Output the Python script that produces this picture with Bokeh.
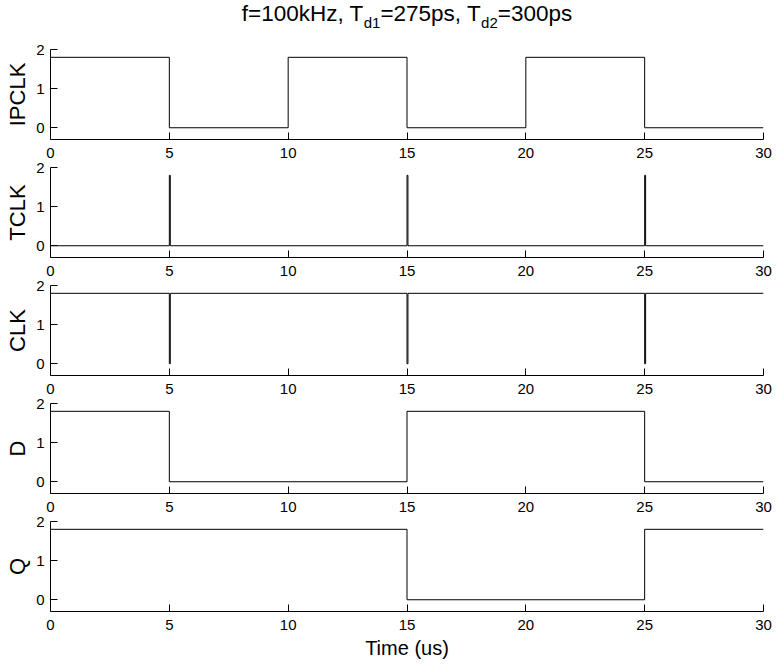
from bokeh.plotting import figure
from bokeh.layouts import column
from bokeh.models import Range1d, FixedTicker, ColumnDataSource
from bokeh.core.properties import value
from bokeh.embed import file_html
from bokeh.resources import INLINE

# ---------------- data ----------------
x_ticks = [0, 5, 10, 15, 20, 25, 30]
y_ticks = [0, 1, 2]
signal_names = ["IPCLK", "TCLK", "CLK", "D", "Q"]

ipclk_t = [0, 5, 5, 10, 10, 15, 15, 20, 20, 25, 25, 30]
ipclk_v = [1.8, 1.8, 0, 0, 1.8, 1.8, 0, 0, 1.8, 1.8, 0, 0]

tclk_t = [0, 5, 5, 5.04, 5.04, 15, 15, 15.04, 15.04, 25, 25, 25.04, 25.04, 30]
tclk_v = [0, 0, 1.8, 1.8, 0, 0, 1.8, 1.8, 0, 0, 1.8, 1.8, 0, 0]

clk_t = [0, 5, 5, 5.04, 5.04, 15, 15, 15.04, 15.04, 25, 25, 25.04, 25.04, 30]
clk_v = [1.8, 1.8, 0, 0, 1.8, 1.8, 0, 0, 1.8, 1.8, 0, 0, 1.8, 1.8]

d_t = [0, 5, 5, 15, 15, 25, 25, 30]
d_v = [1.8, 1.8, 0, 0, 1.8, 1.8, 0, 0]

q_t = [0, 15, 15, 25, 25, 30]
q_v = [1.8, 1.8, 0, 0, 1.8, 1.8]

title_parts = ["f=100kHz, T", "d1", "=275ps, T", "d2", "=300ps"]
title_is_sub = [False, True, False, True, False]
x_label = "Time (us)"

# ---------------- layout ----------------
FONT = "Liberation Sans"
W = 775
BL, BR = 50, 12
MAIN_FS, SUB_FS = 22.5, 15.0
TITLE_H = 48
PANEL_TOP = 12

HW = {"f": 278, "=": 584, "k": 500, "H": 722, "z": 500, ",": 278, " ": 278,
      "T": 611, "d": 556, "p": 556, "s": 500}


def text_width(s, size):
    return sum(HW.get(c, 556) for c in s) * size / 1000.0


# the column aligns frames, so the title frame spans the panels' frame width
# and starts below the shared top border: map data units to page pixels
title_fig = figure(width=W, height=TITLE_H, x_range=Range1d(BL, W - BR),
                   y_range=Range1d(TITLE_H, PANEL_TOP),
                   toolbar_location=None, output_backend="svg", min_border=0,
                   x_axis_location=None, y_axis_location=None,
                   outline_line_color=None)
title_fig.grid.visible = False
sizes = [SUB_FS if s else MAIN_FS for s in title_is_sub]
widths = [text_width(t, fs) for t, fs in zip(title_parts, sizes)]
center = (BL + (W - BR)) / 2.0
xs = []
cur = center - sum(widths) / 2.0
for w in widths:
    xs.append(cur)
    cur += w
ys = [28.5 if s else 22 for s in title_is_sub]
src = ColumnDataSource(dict(x=xs, y=ys, text=title_parts,
                            fs=["%.1fpx" % f for f in sizes]))
title_fig.text(x="x", y="y", text="text", source=src, text_font=value(FONT),
               text_font_size="fs", text_baseline="alphabetic", text_align="left",
               text_color="black")

figs = [title_fig]
series = [(ipclk_t, ipclk_v), (tclk_t, tclk_v), (clk_t, clk_v), (d_t, d_v), (q_t, q_v)]
for i, (name, (t, v)) in enumerate(zip(signal_names, series)):
    last = i == len(series) - 1
    top = PANEL_TOP
    bottom = 53 if last else 28
    h = top + 90 + bottom
    p = figure(width=W, height=h, x_range=Range1d(0, 30), y_range=Range1d(-0.3, 2.0),
               toolbar_location=None, output_backend="svg",
               min_border_left=BL, min_border_right=BR,
               min_border_top=top, min_border_bottom=bottom,
               background_fill_color=None, border_fill_color=None,
               outline_line_color=None)
    p.margin = (-11 if i == 0 else -12, 0, 0, 0)
    p.line(t, v, line_color="black", line_width=1)
    p.grid.visible = False
    p.xaxis.ticker = FixedTicker(ticks=x_ticks)
    p.yaxis.ticker = FixedTicker(ticks=y_ticks)
    for ax in (p.xaxis[0], p.yaxis[0]):
        ax.minor_tick_line_color = None
        ax.major_tick_in = 7
        ax.major_tick_out = 0
        ax.axis_line_color = "black"
        ax.major_tick_line_color = "black"
        ax.major_label_text_font = FONT
        ax.major_label_text_font_size = "15px"
        ax.major_label_text_color = "black"
    p.xaxis.major_label_standoff = 8
    p.yaxis.major_label_standoff = 6
    p.yaxis.axis_label = name
    p.yaxis.axis_label_text_font = FONT
    p.yaxis.axis_label_text_font_size = "22px"
    p.yaxis.axis_label_text_font_style = "normal"
    p.yaxis.axis_label_text_color = "black"
    p.yaxis.axis_label_standoff = 3
    if last:
        p.xaxis.axis_label = x_label
        p.xaxis.axis_label_text_font = FONT
        p.xaxis.axis_label_text_font_size = "20px"
        p.xaxis.axis_label_text_font_style = "normal"
        p.xaxis.axis_label_text_color = "black"
        p.xaxis.axis_label_standoff = 4
    figs.append(p)

layout = column(*figs, spacing=0)
open("out.html", "w").write(file_html(layout, INLINE))
